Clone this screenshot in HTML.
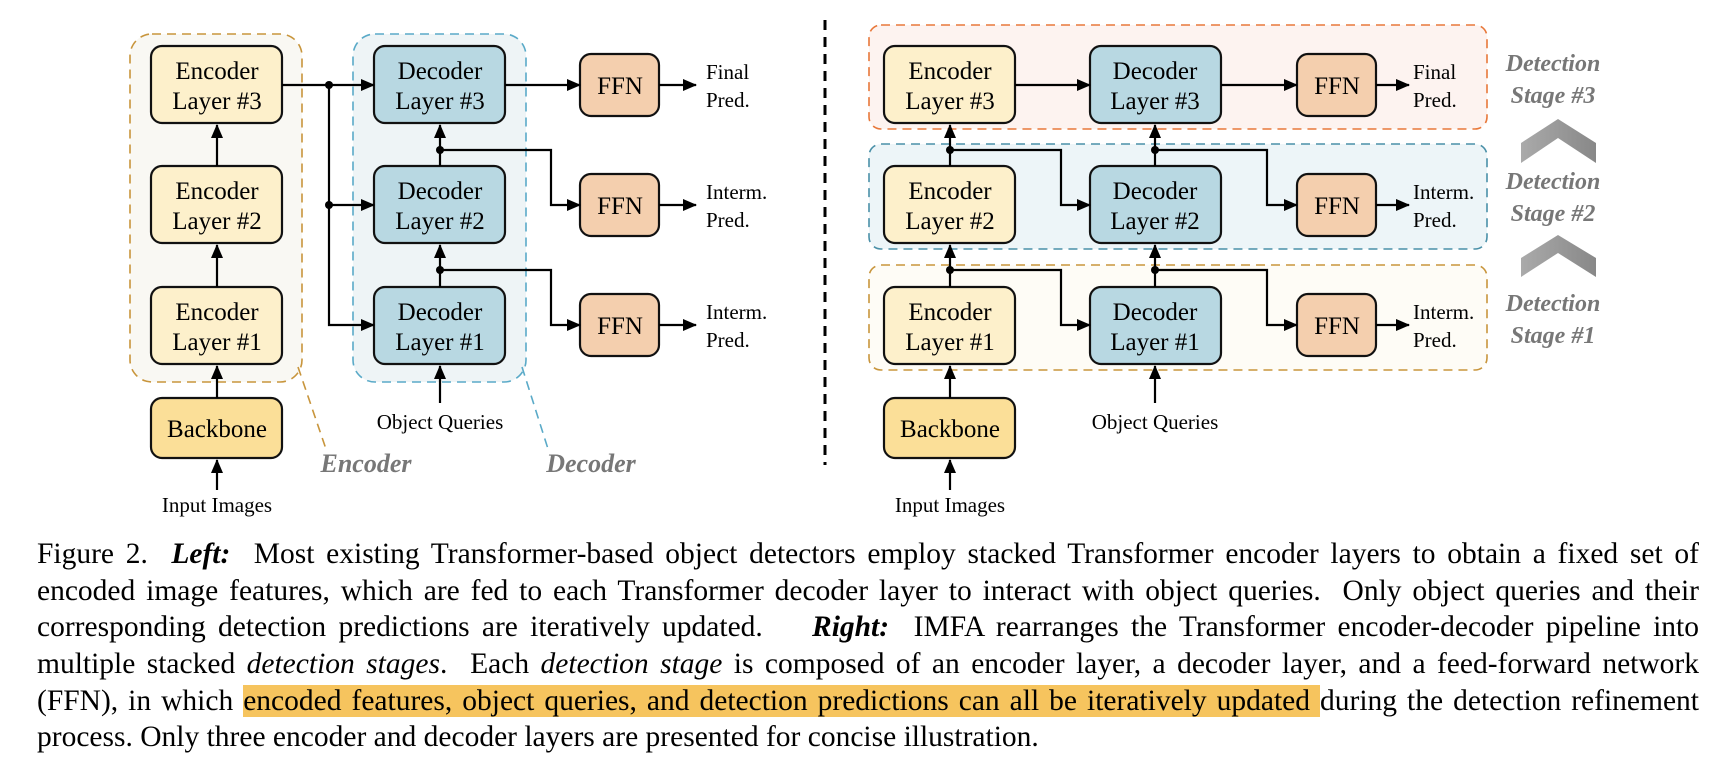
<!DOCTYPE html>
<html><head><meta charset="utf-8"><style>
html,body{margin:0;padding:0;background:#fff;width:1718px;height:764px;overflow:hidden}
svg{position:absolute;left:0;top:0}
.cap{position:absolute;left:37px;top:536px;width:1662px;font-family:"Liberation Serif",serif;font-size:29.5px;line-height:36.7px;color:#000}
.cap div{white-space:nowrap;text-align:justify;text-align-last:justify;height:36.7px}
.cap div.last{text-align-last:left}
.hl{background:#f6c45e}
</style></head><body>
<svg width="1718" height="520" viewBox="0 0 1718 520" font-family="Liberation Serif, serif">
<defs>
<marker id="b" markerWidth="14" markerHeight="14" refX="13" refY="6" orient="auto" markerUnits="userSpaceOnUse"><path d="M0,0 L14,6 L0,12 z" fill="#000"/></marker>
<linearGradient id="g" x1="0" x2="1"><stop offset="0" stop-color="#aaa"/><stop offset="1" stop-color="#888"/></linearGradient>
</defs>
<rect x="130" y="34" width="172" height="348" rx="22" fill="#f9f8f3" stroke="#c8953c" stroke-width="1.6" stroke-dasharray="9,6"/>
<rect x="353" y="34" width="173" height="348" rx="22" fill="#eef4f6" stroke="#5aaac8" stroke-width="1.6" stroke-dasharray="9,6"/>
<line x1="298" y1="367" x2="327" y2="452" stroke="#c8953c" stroke-width="1.6" stroke-dasharray="9,6"/>
<line x1="522" y1="367" x2="549" y2="452" stroke="#5aaac8" stroke-width="1.6" stroke-dasharray="9,6"/>
<g font-weight="bold" font-style="italic" fill="#777" font-size="26" text-anchor="middle">
<text x="366" y="472">Encoder</text><text x="591" y="472">Decoder</text>
</g>
<g stroke="#111" stroke-width="2.2">
<rect x="151" y="46" width="131" height="77" rx="11" fill="#fdf0cb"/>
<rect x="151" y="166" width="131" height="77" rx="11" fill="#fdf0cb"/>
<rect x="151" y="287" width="131" height="77" rx="11" fill="#fdf0cb"/>
<rect x="151" y="398" width="131" height="60" rx="11" fill="#fbdf98"/>
<rect x="374" y="46" width="131" height="77" rx="11" fill="#b8d8e2"/>
<rect x="374" y="166" width="131" height="77" rx="11" fill="#b8d8e2"/>
<rect x="374" y="287" width="131" height="77" rx="11" fill="#b8d8e2"/>
<rect x="580" y="54" width="79" height="62" rx="11" fill="#f4cfae"/>
<rect x="580" y="174" width="79" height="62" rx="11" fill="#f4cfae"/>
<rect x="580" y="294" width="79" height="62" rx="11" fill="#f4cfae"/>
</g>
<g stroke="#000" stroke-width="2.2" fill="none">
<line x1="217" y1="490" x2="217" y2="460" marker-end="url(#b)"/>
<line x1="217" y1="398" x2="217" y2="366" marker-end="url(#b)"/>
<line x1="217" y1="287" x2="217" y2="245" marker-end="url(#b)"/>
<line x1="217" y1="166" x2="217" y2="125" marker-end="url(#b)"/>
<line x1="282" y1="85" x2="374" y2="85" marker-end="url(#b)"/>
<polyline points="329,85 329,325 374,325" marker-end="url(#b)"/>
<line x1="329" y1="205" x2="374" y2="205" marker-end="url(#b)"/>
<line x1="440" y1="403" x2="440" y2="366" marker-end="url(#b)"/>
<line x1="440" y1="287" x2="440" y2="245" marker-end="url(#b)"/>
<line x1="440" y1="166" x2="440" y2="125" marker-end="url(#b)"/>
<line x1="505" y1="85" x2="580" y2="85" marker-end="url(#b)"/>
<polyline points="440,150 551,150 551,205 580,205" marker-end="url(#b)"/>
<polyline points="440,270 551,270 551,325 580,325" marker-end="url(#b)"/>
<line x1="659" y1="85" x2="696" y2="85" marker-end="url(#b)"/>
<line x1="659" y1="205" x2="696" y2="205" marker-end="url(#b)"/>
<line x1="659" y1="325" x2="696" y2="325" marker-end="url(#b)"/>
</g>
<g fill="#000"><circle cx="329" cy="85" r="4"/><circle cx="329" cy="205" r="4"/><circle cx="440" cy="150" r="4"/><circle cx="440" cy="270" r="4"/></g>
<g font-size="25" text-anchor="middle" fill="#000">
<text x="217" y="79">Encoder</text><text x="217" y="109">Layer #3</text>
<text x="217" y="199">Encoder</text><text x="217" y="229">Layer #2</text>
<text x="217" y="320">Encoder</text><text x="217" y="350">Layer #1</text>
<text x="217" y="437">Backbone</text>
<text x="440" y="79">Decoder</text><text x="440" y="109">Layer #3</text>
<text x="440" y="199">Decoder</text><text x="440" y="229">Layer #2</text>
<text x="440" y="320">Decoder</text><text x="440" y="350">Layer #1</text>
<text x="620" y="94">FFN</text><text x="620" y="214">FFN</text><text x="620" y="334">FFN</text>
</g>
<g font-size="21" fill="#000">
<text x="440" y="429" text-anchor="middle">Object Queries</text>
<text x="217" y="512" text-anchor="middle">Input Images</text>
<text x="706" y="79">Final</text><text x="706" y="107">Pred.</text>
<text x="706" y="199">Interm.</text><text x="706" y="227">Pred.</text>
<text x="706" y="319">Interm.</text><text x="706" y="347">Pred.</text>
</g>
<line x1="825" y1="20" x2="825" y2="465" stroke="#000" stroke-width="3" stroke-dasharray="10,7"/>
<rect x="869" y="25" width="618" height="104" rx="12" fill="#fdf3f0" stroke="#e8783a" stroke-width="1.6" stroke-dasharray="9,6"/>
<rect x="869" y="144" width="618" height="105" rx="12" fill="#edf5f8" stroke="#4a90a8" stroke-width="1.6" stroke-dasharray="9,6"/>
<rect x="869" y="265" width="618" height="105" rx="12" fill="#fefcf6" stroke="#c8953c" stroke-width="1.6" stroke-dasharray="9,6"/>
<g stroke="#111" stroke-width="2.2">
<rect x="884" y="46" width="131" height="77" rx="11" fill="#fdf0cb"/>
<rect x="884" y="166" width="131" height="77" rx="11" fill="#fdf0cb"/>
<rect x="884" y="287" width="131" height="77" rx="11" fill="#fdf0cb"/>
<rect x="884" y="398" width="131" height="60" rx="11" fill="#fbdf98"/>
<rect x="1090" y="46" width="131" height="77" rx="11" fill="#b8d8e2"/>
<rect x="1090" y="166" width="131" height="77" rx="11" fill="#b8d8e2"/>
<rect x="1090" y="287" width="131" height="77" rx="11" fill="#b8d8e2"/>
<rect x="1297" y="54" width="79" height="62" rx="11" fill="#f4cfae"/>
<rect x="1297" y="174" width="79" height="62" rx="11" fill="#f4cfae"/>
<rect x="1297" y="294" width="79" height="62" rx="11" fill="#f4cfae"/>
</g>
<g stroke="#000" stroke-width="2.2" fill="none">
<line x1="950" y1="490" x2="950" y2="460" marker-end="url(#b)"/>
<line x1="950" y1="398" x2="950" y2="366" marker-end="url(#b)"/>
<line x1="950" y1="287" x2="950" y2="245" marker-end="url(#b)"/>
<line x1="950" y1="166" x2="950" y2="125" marker-end="url(#b)"/>
<line x1="1015" y1="85" x2="1090" y2="85" marker-end="url(#b)"/>
<polyline points="950,150 1061,150 1061,205 1090,205" marker-end="url(#b)"/>
<polyline points="950,270 1061,270 1061,325 1090,325" marker-end="url(#b)"/>
<line x1="1155" y1="403" x2="1155" y2="366" marker-end="url(#b)"/>
<line x1="1155" y1="287" x2="1155" y2="245" marker-end="url(#b)"/>
<line x1="1155" y1="166" x2="1155" y2="125" marker-end="url(#b)"/>
<line x1="1221" y1="85" x2="1297" y2="85" marker-end="url(#b)"/>
<polyline points="1155,150 1267,150 1267,205 1297,205" marker-end="url(#b)"/>
<polyline points="1155,270 1267,270 1267,325 1297,325" marker-end="url(#b)"/>
<line x1="1376" y1="85" x2="1409" y2="85" marker-end="url(#b)"/>
<line x1="1376" y1="205" x2="1409" y2="205" marker-end="url(#b)"/>
<line x1="1376" y1="325" x2="1409" y2="325" marker-end="url(#b)"/>
</g>
<g fill="#000"><circle cx="950" cy="150" r="4"/><circle cx="950" cy="270" r="4"/><circle cx="1155" cy="150" r="4"/><circle cx="1155" cy="270" r="4"/></g>
<g font-size="25" text-anchor="middle" fill="#000">
<text x="950" y="79">Encoder</text><text x="950" y="109">Layer #3</text>
<text x="950" y="199">Encoder</text><text x="950" y="229">Layer #2</text>
<text x="950" y="320">Encoder</text><text x="950" y="350">Layer #1</text>
<text x="950" y="437">Backbone</text>
<text x="1155" y="79">Decoder</text><text x="1155" y="109">Layer #3</text>
<text x="1155" y="199">Decoder</text><text x="1155" y="229">Layer #2</text>
<text x="1155" y="320">Decoder</text><text x="1155" y="350">Layer #1</text>
<text x="1337" y="94">FFN</text><text x="1337" y="214">FFN</text><text x="1337" y="334">FFN</text>
</g>
<g font-size="21" fill="#000">
<text x="1155" y="429" text-anchor="middle">Object Queries</text>
<text x="950" y="512" text-anchor="middle">Input Images</text>
<text x="1413" y="79">Final</text><text x="1413" y="107">Pred.</text>
<text x="1413" y="199">Interm.</text><text x="1413" y="227">Pred.</text>
<text x="1413" y="319">Interm.</text><text x="1413" y="347">Pred.</text>
</g>
<g font-weight="bold" font-style="italic" fill="#777" font-size="24" text-anchor="middle">
<text x="1553" y="71">Detection</text><text x="1553" y="103">Stage #3</text>
<text x="1553" y="189">Detection</text><text x="1553" y="221">Stage #2</text>
<text x="1553" y="311">Detection</text><text x="1553" y="343">Stage #1</text>
</g>
<polygon points="1521,143 1558,119 1596,143 1596,163 1558,138 1521,163" fill="url(#g)"/>
<polygon points="1521,258 1558,235 1596,258 1596,277 1558,253 1521,277" fill="url(#g)"/>
</svg>
<div class="cap">
<div>Figure 2.&nbsp; <b><i>Left:</i></b>&nbsp; Most existing Transformer-based object detectors employ stacked Transformer encoder layers to obtain a fixed set of</div>
<div>encoded image features, which are fed to each Transformer decoder layer to interact with object queries.&nbsp; Only object queries and their</div>
<div>corresponding detection predictions are iteratively updated. &nbsp;&nbsp; <b><i>Right:</i></b>&nbsp; IMFA rearranges the Transformer encoder-decoder pipeline into</div>
<div>multiple stacked <i>detection stages</i>.&nbsp; Each <i>detection stage</i> is composed of an encoder layer, a decoder layer, and a feed-forward network</div>
<div>(FFN), in which <span class="hl">encoded features, object queries, and detection predictions can all be iteratively updated </span>during the detection refinement</div>
<div class="last">process. Only three encoder and decoder layers are presented for concise illustration.</div>
</div>
</body></html>
